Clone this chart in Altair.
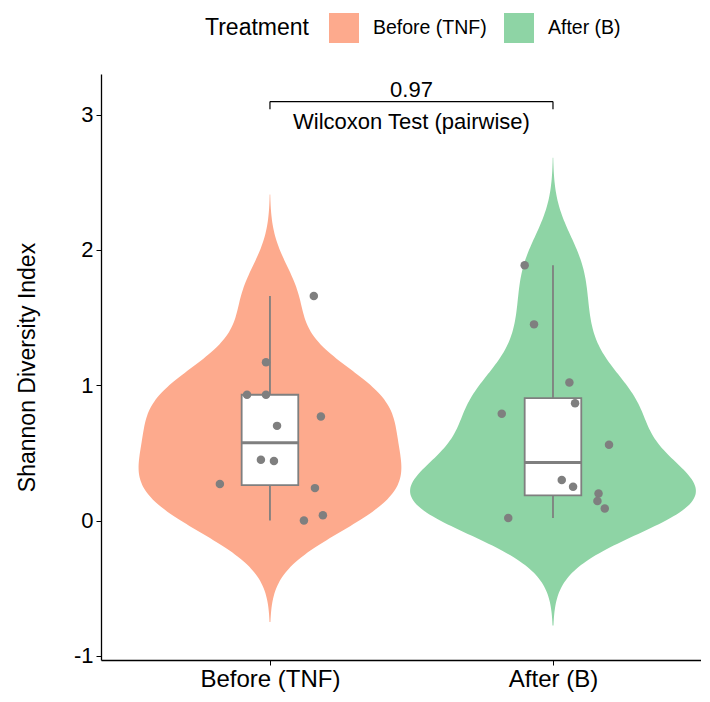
import altair as alt
import pandas as pd

# ---------------- data ----------------
groups = ["Before (TNF)", "After (B)"]
positions = [1, 2]
before_values = [1.66, 1.17, 0.93, 0.93, 0.77, 0.70, 0.45, 0.44, 0.27, 0.24, 0.04, 0.00]
before_jitter = [0.155, -0.014, -0.081, -0.014, 0.180, 0.025, -0.032, 0.014, -0.177, 0.159, 0.187, 0.120]
after_values = [1.886, 1.45, 1.02, 0.867, 0.79, 0.56, 0.30, 0.25, 0.20, 0.145, 0.09, 0.02]
after_jitter = [-0.100, -0.067, 0.058, 0.078, -0.181, 0.198, 0.031, 0.071, 0.161, 0.157, 0.183, -0.158]
y_ticks = [-1, 0, 1, 2, 3]
p_value_label = "0.97"
test_label = "Wilcoxon Test (pairwise)"

# ---------------- styling constants ----------------
colors = ["#FDAA8D", "#8ED4A5"]
bandwidths = [0.25, 0.265]
violin_scale = 0.655
box_half = 0.1
gray = "#7F7F7F"
FONT = "Liberation Sans"

values = [before_values, after_values]
jitters = [before_jitter, after_jitter]

rows = []
for g, p, vals, jit in zip(groups, positions, values, jitters):
    for v, j in zip(vals, jit):
        rows.append({"Treatment": g, "pos": p, "value": v, "jitter": j})
df = pd.DataFrame(rows)

xscale = alt.Scale(domain=[0.403, 2.523], nice=False, zero=False)
yscale = alt.Scale(domain=[-1.03, 3.30], nice=False, zero=False)

label_expr = " : ".join(
    [f"datum.value == {p} ? '{g}'" for p, g in zip(positions[:-1], groups[:-1])] + [f"'{groups[-1]}'"]
)
xaxis = alt.Axis(values=positions, labelExpr=label_expr, grid=False, domainColor="black",
                 tickColor="black", tickSize=5, labelFontSize=24, labelColor="black",
                 labelFont=FONT, labelPadding=2, title=None, domainWidth=1.3)
yaxis = alt.Axis(values=y_ticks, labelExpr="'' + datum.value", grid=False, domainColor="black",
                 tickColor="black", tickSize=5, labelFontSize=22, labelColor="black",
                 labelFont=FONT, labelPadding=3, title="Shannon Diversity Index",
                 titleFontSize=23, titleFont=FONT, titleFontWeight="normal", titleColor="black",
                 titlePadding=34, domainWidth=1.3)


def X(field):
    return alt.X(field, scale=xscale, axis=xaxis, title=None)


def Y(field):
    return alt.Y(field, scale=yscale, axis=yaxis, title="Shannon Diversity Index")


legend = alt.Legend(title="Treatment", orient="none", legendX=104, legendY=-61,
                    direction="horizontal", titleOrient="left", titleFontSize=23,
                    titleFont=FONT, titleFontWeight="normal", titleColor="black",
                    titlePadding=20, titleBaseline="middle", titleAnchor="middle",
                    labelFontSize=19.5, labelFont=FONT, labelColor="black",
                    symbolType="square", symbolSize=900, symbolStrokeWidth=0,
                    symbolOpacity=1, labelOffset=14, columnPadding=17, padding=0)

color = alt.Color("Treatment:N", scale=alt.Scale(domain=groups, range=colors), legend=legend)

layers = []
for g, vals, bw in zip(groups, values, bandwidths):
    ext = [min(vals) - 3 * bw, max(vals) + 3 * bw]
    v = (
        alt.Chart(df)
        .transform_filter(alt.datum.Treatment == g)
        .transform_density("value", groupby=["Treatment", "pos"], bandwidth=bw,
                           extent=ext, steps=240, as_=["value", "density"])
        .transform_calculate(left=f"datum.pos - datum.density * {violin_scale}",
                             right=f"datum.pos + datum.density * {violin_scale}")
        .mark_area(orient="horizontal", opacity=1)
        .encode(y=Y("value:Q"), x=X("left:Q"), x2="right:Q", color=color)
    )
    layers.append(v)

stats = (
    alt.Chart(df)
    .transform_joinaggregate(q1="q1(value)", q3="q3(value)", med="median(value)", groupby=["Treatment"])
    .transform_filter("datum.value >= datum.q1 - 1.5*(datum.q3-datum.q1) && datum.value <= datum.q3 + 1.5*(datum.q3-datum.q1)")
    .transform_aggregate(lo="min(value)", hi="max(value)", groupby=["Treatment", "pos", "q1", "q3", "med"])
    .transform_calculate(bl=f"datum.pos - {box_half}", br=f"datum.pos + {box_half}")
)

whisk_hi = stats.mark_rule(color=gray, strokeWidth=1.8).encode(x=X("pos:Q"), y=Y("q3:Q"), y2="hi:Q")
whisk_lo = stats.mark_rule(color=gray, strokeWidth=1.8).encode(x=X("pos:Q"), y=Y("lo:Q"), y2="q1:Q")
box = stats.mark_rect(fill="white", stroke=gray, strokeWidth=1.8).encode(
    x=X("bl:Q"), x2="br:Q", y=Y("q1:Q"), y2="q3:Q")
median = stats.mark_rule(color=gray, strokeWidth=3).encode(x=X("bl:Q"), x2="br:Q", y=Y("med:Q"))

points = (
    alt.Chart(df)
    .transform_calculate(jx="datum.pos + datum.jitter")
    .mark_circle(size=72, color=gray, opacity=1)
    .encode(x=X("jx:Q"), y=Y("value:Q"))
)

# significance bracket
bracket_y = 3.096
tip_y = 3.04
bracket_df = pd.DataFrame({"x1": [positions[0]], "x2": [positions[1]], "y": [bracket_y]})
tips_df = pd.DataFrame({"x": positions, "y": [tip_y, tip_y], "y2": [bracket_y, bracket_y]})
text_df = pd.DataFrame({"x": [1.5, 1.5], "y": [3.133, 2.897], "label": [p_value_label, test_label]})

bracket = alt.Chart(bracket_df).mark_rule(color="black", strokeWidth=1.2).encode(
    x=X("x1:Q"), x2="x2:Q", y=Y("y:Q"))
tips = alt.Chart(tips_df).mark_rule(color="black", strokeWidth=1.2).encode(
    x=X("x:Q"), y=Y("y:Q"), y2="y2:Q")
texts = alt.Chart(text_df).mark_text(font=FONT, fontSize=22, color="black", baseline="alphabetic",
                                     align="center").encode(x=X("x:Q"), y=Y("y:Q"), text="label:N")

chart = (
    alt.layer(*layers, whisk_hi, whisk_lo, box, median, points, bracket, tips, texts)
    .properties(width=600, height=586, autosize="none",
                padding={"left": 93, "top": 66, "right": 0, "bottom": 34})
    .configure(font=FONT)
    .configure_view(stroke=None)
)

chart.save("out.html", embed_options={"renderer": "svg", "actions": False})
